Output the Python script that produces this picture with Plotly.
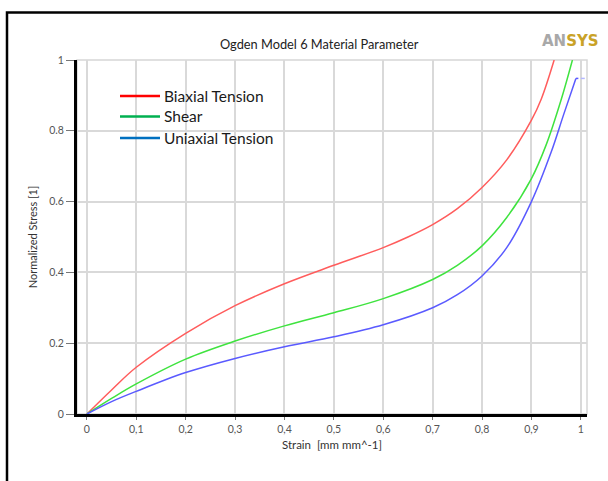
import plotly.graph_objects as go

# ---------------- data ----------------
biax_x = [0, 0.05, 0.1, 0.2, 0.3, 0.4, 0.5, 0.6, 0.65, 0.7, 0.75, 0.8, 0.85, 0.9, 0.92, 0.946]
biax_y = [0, 0.068, 0.132, 0.228, 0.306, 0.368, 0.42, 0.47, 0.5, 0.535, 0.58, 0.64, 0.718, 0.83, 0.89, 1.0]

shear_x = [0, 0.05, 0.1, 0.2, 0.3, 0.4, 0.5, 0.6, 0.7, 0.75, 0.8, 0.85, 0.9, 0.93, 0.96, 0.983]
shear_y = [0, 0.044, 0.085, 0.155, 0.206, 0.249, 0.286, 0.326, 0.38, 0.42, 0.475, 0.555, 0.665, 0.761, 0.887, 1.0]

uni_x = [0, 0.05, 0.1, 0.2, 0.3, 0.4, 0.5, 0.6, 0.7, 0.75, 0.8, 0.85, 0.9, 0.94, 0.965, 0.99]
uni_y = [0, 0.035, 0.064, 0.117, 0.157, 0.19, 0.218, 0.252, 0.3, 0.337, 0.39, 0.47, 0.6, 0.74, 0.845, 0.948]
uni_tail_x = [0.99, 0.995]
uni_tail_y = [0.948, 0.948]
uni_stub_x = [1.0, 1.008]
uni_stub_y = [0.948, 0.948]

x_ticks = [0, 0.1, 0.2, 0.3, 0.4, 0.5, 0.6, 0.7, 0.8, 0.9, 1.0]
x_tick_text = ["0", "0,1", "0,2", "0,3", "0,4", "0,5", "0,6", "0,7", "0,8", "0,9", "1"]
y_ticks = [0, 0.2, 0.4, 0.6, 0.8, 1.0]
y_tick_text = ["0", "0.2", "0.4", "0.6", "0.8", "1"]

legend_names = ["Biaxial Tension", "Shear", "Uniaxial Tension"]
legend_colors = ["#ff0000", "#00b050", "#0070c0"]

# ---------------- layout geometry ----------------
L, R, T, B = 77, 587, 60, 414
W, H = R - L, B - T


def px(x):
    return (x - L) / W


def py(y):
    return (B - y) / H


FONT = "Lato"
fig = go.Figure()

spl = dict(width=1.5, shape="spline", smoothing=1.0)
fig.add_trace(go.Scatter(x=biax_x, y=biax_y, mode="lines", line=dict(color="#ff5c5c", **spl), showlegend=False))
fig.add_trace(go.Scatter(x=shear_x, y=shear_y, mode="lines", line=dict(color="#3fe33f", **spl), showlegend=False))
fig.add_trace(go.Scatter(x=uni_x, y=uni_y, mode="lines", line=dict(color="#5a5aff", **spl), showlegend=False))
fig.add_trace(go.Scatter(x=uni_tail_x, y=uni_tail_y, mode="lines", line=dict(color="#5a5aff", width=1.5), showlegend=False))
fig.add_trace(go.Scatter(x=uni_stub_x, y=uni_stub_y, mode="lines", line=dict(color="#b4b8ff", width=1.5), showlegend=False, cliponaxis=False))

shapes = []
# light gray plot border (top/right)
shapes.append(dict(type="rect", xref="paper", yref="paper", x0=0, x1=1, y0=0, y1=1,
                   line=dict(color="#d6d6d6", width=1.5), layer="below"))
# outer black frame of the screenshot
shapes.append(dict(type="rect", xref="paper", yref="paper", x0=px(7), x1=px(660), y0=py(560), y1=py(12.5),
                   line=dict(color="black", width=2.5)))

annotations = []
# legend drawn manually (Excel-like overlay)
leg_y = [96, 116.5, 138]
for name, col, yy in zip(legend_names, legend_colors, leg_y):
    shapes.append(dict(type="line", xref="paper", yref="paper", x0=px(120), x1=px(160), y0=py(yy), y1=py(yy),
                       line=dict(color=col, width=2.5)))
    annotations.append(dict(text=name, xref="paper", yref="paper", x=px(162), y=py(yy), xanchor="left", yanchor="middle",
                            showarrow=False, font=dict(family=FONT, size=15.5, color="#1a1a1a")))

# title
annotations.append(dict(text="Ogden Model 6 Material Parameter", xref="paper", yref="paper", x=px(319), y=py(44),
                        xanchor="center", yanchor="middle", showarrow=False, font=dict(family=FONT, size=12.8, color="#222222")))
# logo
annotations.append(dict(text="<b><span style='color:#a8a8a8'>AN</span><span style='color:#c9a227'>SYS</span></b>",
                        xref="paper", yref="paper", x=px(570), y=py(41), xanchor="center", yanchor="middle",
                        showarrow=False, font=dict(family="DejaVu Sans", size=15)))

fig.update_layout(
    width=608, height=481,
    margin=dict(l=L, r=608 - R, t=T, b=481 - B),
    paper_bgcolor="white", plot_bgcolor="white",
    shapes=shapes, annotations=annotations,
    showlegend=False,
    xaxis=dict(range=[-0.02, 1.0125], tickvals=x_ticks, ticktext=x_tick_text,
               showgrid=True, gridcolor="#d9d9d9", gridwidth=1.5, zeroline=False,
               showline=True, linecolor="black", linewidth=3,
               ticks="outside", ticklen=3, tickcolor="#777777", tickwidth=1,
               tickfont=dict(family=FONT, size=10.5, color="#555555"),
               title=dict(text="Strain  [mm mm^-1]", font=dict(family=FONT, size=11.5, color="#333333"), standoff=8),
               automargin=False),
    yaxis=dict(range=[0, 1], tickvals=y_ticks, ticktext=y_tick_text,
               showgrid=True, gridcolor="#d9d9d9", gridwidth=1.5, zeroline=False,
               showline=True, linecolor="black", linewidth=3,
               ticks="outside", ticklen=8, tickcolor="#777777", tickwidth=1,
               tickfont=dict(family=FONT, size=10.5, color="#555555"),
               title=dict(text="Normalized Stress [1]", font=dict(family=FONT, size=11, color="#333333"), standoff=10),
               automargin=False),
)

fig.write_html("out.html")
